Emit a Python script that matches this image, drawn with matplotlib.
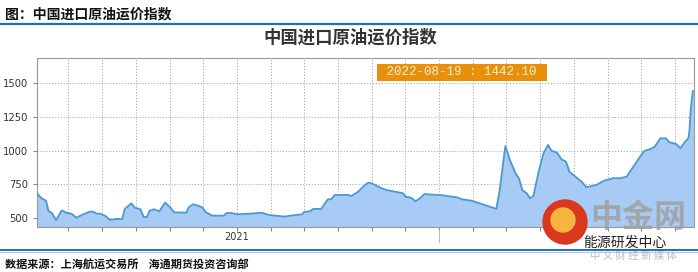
import matplotlib
matplotlib.use("Agg")
import matplotlib.pyplot as plt
from matplotlib.patches import Circle
from matplotlib.lines import Line2D

plt.rcParams['font.family'] = ['Noto Sans CJK SC', 'DejaVu Sans']

# day index (trading-day position along x) and index value
days = [0, 4, 8, 10, 13, 17, 22, 26, 31, 35, 41, 47, 50, 53, 56, 61, 65, 71, 76, 78,
        84, 87, 92, 95, 98, 100, 104, 109, 114, 118, 122, 133, 135, 139, 144, 147, 150,
        156, 166, 169, 173, 178, 190, 200, 206, 212, 221, 225, 236, 238, 243, 246, 253,
        259, 262, 265, 277, 280, 286, 292, 295, 298, 302, 307, 311, 320, 326, 328, 333,
        337, 341, 345, 351, 359, 365, 374, 378, 387, 396, 403, 409, 412, 417, 421, 426,
        429, 432, 436, 439, 442, 447, 451, 455, 458, 463, 467, 471, 474, 480, 485, 489,
        494, 498, 505, 513, 519, 525, 528, 532, 538, 541, 546, 550, 555, 560, 563, 569,
        573, 577, 580, 581, 582, 584]
values = [683, 646, 628, 554, 539, 485, 557, 539, 530, 502, 527, 547, 547, 532, 532, 515,
          485, 493, 493, 565, 609, 576, 565, 507, 507, 552, 565, 550, 614, 584, 542, 539,
          579, 602, 589, 579, 545, 517, 517, 537, 537, 527, 532, 539, 524, 517, 510, 517,
          527, 545, 550, 567, 567, 639, 639, 671, 671, 663, 695, 745, 762, 757, 740, 720,
          708, 693, 683, 658, 651, 624, 646, 678, 673, 671, 663, 653, 639, 628, 604, 584,
          567, 708, 1034, 930, 832, 795, 708, 683, 646, 663, 856, 980, 1042, 999, 985, 935,
          918, 844, 802, 769, 728, 737, 745, 777, 795, 795, 806, 844, 893, 967, 999, 1010,
          1029, 1091, 1091, 1062, 1049, 1017, 1066, 1091, 1153, 1301, 1442.10]

last_date = "2022-08-19"
y_ticks = [500, 750, 1000, 1250, 1500]
grid_days = [28 + 30 * k for k in range(19)]
year_label = "2021"
year_day = 178
year_break_day = 358

fig = plt.figure(figsize=(6.98, 2.72), dpi=100)
ax = fig.add_axes([37 / 698, 1 - 227 / 272, 657 / 698, 169 / 272])

y0 = 433
ax.fill_between(days, values, y0, color="#a7cbf4", zorder=2)
ax.plot(days, values, color="#4b9ad3", linewidth=1.3, zorder=3)

ax.set_xlim(0, 585)
ax.set_ylim(y0, 1687)
ax.set_yticks(y_ticks)
ax.set_yticklabels([str(v) for v in y_ticks], fontsize=7.2, color="#333333", family="DejaVu Sans")
ax.set_xticks(grid_days)
ax.set_xticklabels(["" for _ in grid_days])
ax.tick_params(axis="both", length=3, color="#888888", width=0.8)
ax.grid(True, linestyle=(0, (1.2, 1.8)), color="#aaaaaa", linewidth=0.7, zorder=1)
for s in ax.spines.values():
    s.set_color("#999999")
    s.set_linewidth(0.8)

ax.text(year_day, y0 - 40, year_label, ha="center", va="top", fontsize=7,
        color="#333333", family="DejaVu Sans")
ax.plot([year_break_day, year_break_day], [y0 - 20, y0 - 110], color="#bbbbbb",
        linewidth=0.8, clip_on=False)

# annotation box with the latest value
fig.text(379 / 698, 1 - 72 / 272, f" {last_date} : {values[-1]:.2f} ", ha="left", va="center",
         fontsize=9, color="#fbeed0", family="Liberation Mono",
         bbox=dict(boxstyle="square,pad=0.2", facecolor="#e8900c", edgecolor="none"))

# header, title, source
fig.text(5 / 698, 1 - 14 / 272, "图：中国进口原油运价指数", fontsize=10, fontweight="bold",
         ha="left", va="center", color="#111111")
fig.add_artist(Line2D([0, 1], [1 - 24 / 272, 1 - 24 / 272], color="#1f6fc0", linewidth=1.6))
fig.text(350 / 698, 1 - 38 / 272, "中国进口原油运价指数", fontsize=12.5, ha="center",
         va="center", color="#333333", fontweight="bold")
fig.add_artist(Line2D([0, 1], [1 - 249.5 / 272, 1 - 249.5 / 272], color="#1f6fc0", linewidth=1.4))
fig.add_artist(Line2D([0, 1], [1 - 252 / 272, 1 - 252 / 272], color="#a9c8ea", linewidth=0.8))
fig.text(5 / 698, 1 - 265 / 272, "数据来源：上海航运交易所    海通期货投资咨询部", fontsize=8,
         fontweight="bold", ha="left", va="center", color="#111111")

# watermark
wm = fig.add_axes([0, 0, 1, 1], facecolor="none")
wm.set_xlim(0, 698)
wm.set_ylim(272, 0)
wm.axis("off")
wm.add_patch(Circle((565, 222), 22, color="#d9381c", zorder=5))
wm.add_patch(Circle((563, 220), 12, color="#f7b440", zorder=6))
wm.text(638, 218, "中金网", fontsize=23, fontweight="bold", color="#a0a0a0", alpha=0.85,
        ha="center", va="center", zorder=5)
wm.text(625, 243, "能源研发中心", fontsize=10, color="#222222", ha="center", va="center", zorder=6)
wm.text(633, 256, "中 文 财 经 新 媒 体", fontsize=7.5, color="#bbbbbb", ha="center",
        va="center", zorder=5)

fig.savefig("out.png", dpi=100)
